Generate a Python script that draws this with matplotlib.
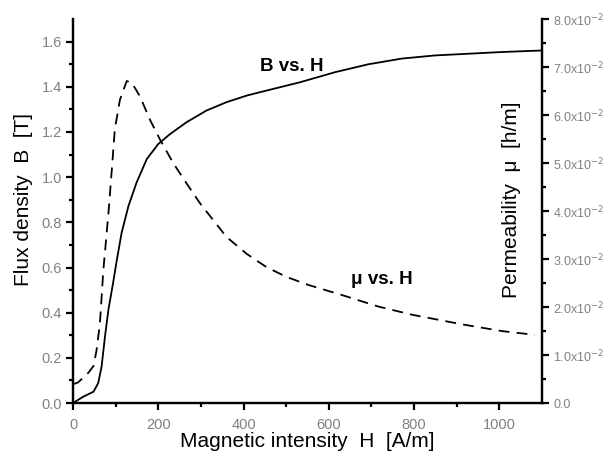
import matplotlib.pyplot as plt
import numpy as np

plt.rcParams['font.family'] = ['Liberation Sans', 'DejaVu Sans']

# B vs H (solid)
h_b = [0, 24, 48, 59, 67, 75, 83, 94, 102, 114, 130, 149, 173, 200, 227, 266, 313, 360, 407, 438,
       532, 615, 693, 771, 849, 1005, 1100]
b_vals = [0, 0.028, 0.05, 0.088, 0.161, 0.295, 0.413, 0.532, 0.625, 0.754, 0.872, 0.976, 1.08, 1.147,
          1.19, 1.243, 1.295, 1.332, 1.361, 1.376, 1.42, 1.465, 1.5, 1.525, 1.539, 1.554, 1.561]

# mu vs H (dashed)
h_mu = [0, 12, 36, 48, 55, 63, 67, 71, 75, 83, 91, 98, 110, 126, 138, 157, 180, 204, 235, 266, 298,
        329, 360, 407, 454, 500, 552, 638, 716, 795, 912, 1005, 1083]
mu_vals = [0.0039, 0.0043, 0.0063, 0.0077, 0.0109, 0.0165, 0.022, 0.0276, 0.0315, 0.0395, 0.0486,
           0.0570, 0.0632, 0.0671, 0.0667, 0.0639, 0.0591, 0.0549, 0.050, 0.0458, 0.0416, 0.0381,
           0.0346, 0.0311, 0.0283, 0.0263, 0.0246, 0.0223, 0.0201, 0.0184, 0.0164, 0.0150, 0.0142]

x_ticks = [0, 200, 400, 600, 800, 1000]
b_ticks = [0.0, 0.2, 0.4, 0.6, 0.8, 1.0, 1.2, 1.4, 1.6]
mu_ticks = [0.0, 0.01, 0.02, 0.03, 0.04, 0.05, 0.06, 0.07, 0.08]
mu_labels = ['0.0'] + ['%.1fx10$^{-2}$' % (v * 100) for v in mu_ticks[1:]]

grey = '#808080'

fig = plt.figure(figsize=(6.04, 4.54), dpi=100)
ax = fig.add_axes([0.1209, 0.1123, 0.7765, 0.8457])
ax2 = ax.twinx()

ax.plot(h_b, b_vals, color='black', lw=1.3)
ax2.plot(h_mu, mu_vals, color='black', lw=1.3, ls=(0, (6, 4)))

ax.set_xlim(0, 1100)
ax.set_ylim(0, 1.7)
ax2.set_ylim(0, 0.08)

ax.set_xticks(x_ticks)
ax.set_xticks(np.arange(100, 1100, 200), minor=True)
ax.set_yticks(b_ticks)
ax.set_yticklabels(['%.1f' % v for v in b_ticks])
ax.set_yticks(np.arange(0.1, 1.7, 0.2), minor=True)
ax2.set_yticks(mu_ticks)
ax2.set_yticklabels(mu_labels)
ax2.set_yticks(np.arange(0.005, 0.08, 0.01), minor=True)

for a in (ax, ax2):
    a.spines['top'].set_visible(False)
    for s in a.spines.values():
        s.set_linewidth(1.6)
    a.tick_params(which='major', length=5, width=1.6, direction='out', labelcolor=grey)
    a.tick_params(which='minor', length=3, width=1.6, direction='out')
ax.tick_params(axis='x', labelsize=10.5, pad=6)
ax.tick_params(axis='y', labelsize=10.5, pad=3)
ax2.tick_params(axis='y', labelsize=9, pad=3)

ax.set_xlabel('Magnetic intensity  H  [A/m]', fontsize=15, labelpad=0)
ax.set_ylabel('Flux density  B  [T]', fontsize=15)
ax.yaxis.set_label_coords(-0.085, 0.53)
ax2.set_ylabel('Permeability  \u03bc  [h/m]', fontsize=15)
ax2.yaxis.set_label_coords(0.914, 0.53)

ax.text(512, 1.49, 'B vs. H', fontsize=13.5, fontweight='bold', ha='center', va='center')
ax2.text(724, 0.0258, '\u03bc vs. H', fontsize=13.5, fontweight='bold', ha='center', va='center')

fig.savefig('out.png', dpi=100)
